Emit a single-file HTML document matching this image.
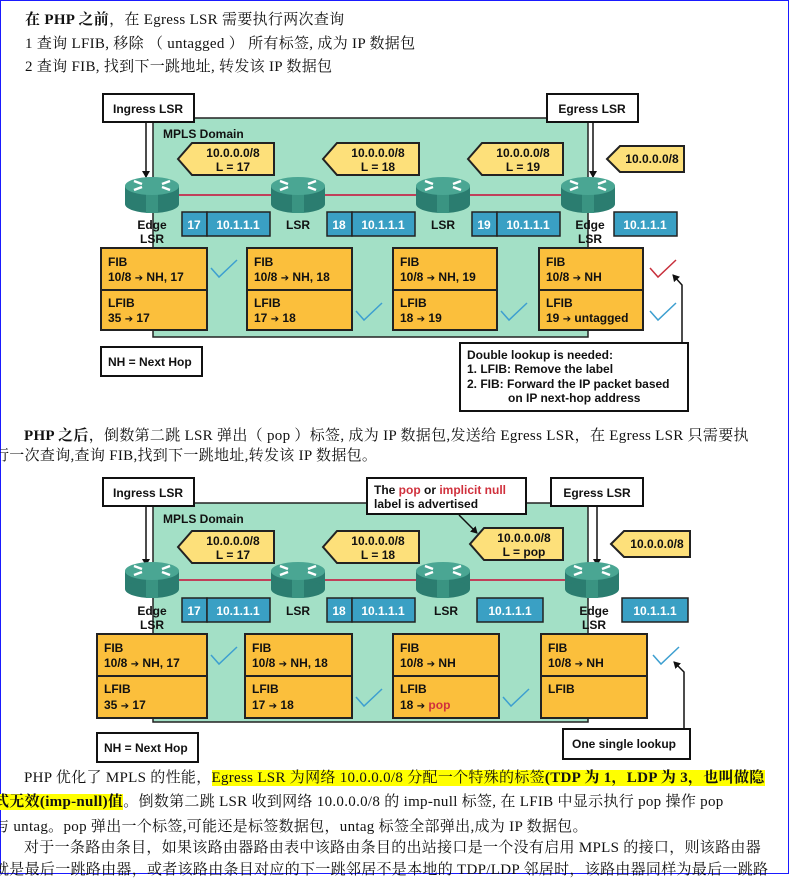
<!DOCTYPE html>
<html><head><meta charset="utf-8"><style>
html,body{margin:0;padding:0;background:#fff}
body{width:789px;height:874px;position:relative;overflow:hidden}
.frame{position:absolute;left:0;top:0;width:787px;height:872px;border:1px solid #1a1aff}
.t{position:absolute;white-space:nowrap;font-family:"Liberation Serif","Noto Serif CJK SC",serif;font-size:15px;letter-spacing:0.3px;line-height:20px;color:#111}
.hl{background:#ffff00}
b{font-weight:bold}
svg text{font-family:"Liberation Sans",Arial,sans-serif;font-weight:bold;font-size:12px;fill:#111}
.ar{font-family:"DejaVu Sans",sans-serif;font-size:10px}
</style></head><body>
<div class="frame"></div>
<div class="t" style="left:25px;top:10px"><b>在 PHP 之前</b>，在 Egress LSR 需要执行两次查询</div>
<div class="t" style="left:25px;top:34px">1 查询 LFIB, 移除 （ untagged ） 所有标签, 成为 IP 数据包</div>
<div class="t" style="left:25px;top:57px">2 查询 FIB, 找到下一跳地址, 转发该 IP 数据包</div>
<div class="t" style="left:24px;top:426px"><b>PHP 之后</b>，倒数第二跳 LSR 弹出（ pop ）标签, 成为 IP 数据包,发送给 Egress LSR，在 Egress LSR 只需要执</div>
<div class="t" style="left:-6px;top:446px">行一次查询,查询 FIB,找到下一跳地址,转发该 IP 数据包。</div>
<div class="t" style="left:24px;top:768px">PHP 优化了 MPLS 的性能，<span class="hl">Egress LSR 为网络 10.0.0.0/8 分配一个特殊的标签<b>(TDP 为 1，LDP 为 3，也叫做隐</b></span></div>
<div class="t" style="left:-6px;top:792px"><span class="hl"><b>式无效(imp-null)值</b></span>。倒数第二跳 LSR 收到网络 10.0.0.0/8 的 imp-null 标签, 在 LFIB 中显示执行 pop 操作 pop</div>
<div class="t" style="left:-6px;top:817px">与 untag。pop 弹出一个标签,可能还是标签数据包，untag 标签全部弹出,成为 IP 数据包。</div>
<div class="t" style="left:24px;top:838px">对于一条路由条目，如果该路由器路由表中该路由条目的出站接口是一个没有启用 MPLS 的接口，则该路由器</div>
<div class="t" style="left:-6px;top:860px">就是最后一跳路由器，或者该路由条目对应的下一跳邻居不是本地的 TDP/LDP 邻居时，该路由器同样为最后一跳路</div>

<svg width="789" height="874" style="position:absolute;left:0;top:0" xmlns="http://www.w3.org/2000/svg">
<defs>
<marker id="ah" markerWidth="8" markerHeight="8" refX="6" refY="4" orient="auto" markerUnits="userSpaceOnUse"><path d="M0,0 L7,4 L0,8 z" fill="#111"/></marker>
<g id="rt">
<rect x="-27" y="-9" width="54" height="18" fill="#2b7d70"/>
<ellipse cx="0" cy="9" rx="27" ry="9" fill="#2b7d70"/>
<rect x="-6" y="-2" width="12" height="20" fill="#3a9482"/>
<ellipse cx="0" cy="-9" rx="27" ry="9" fill="#4aa693"/>
<path d="M-18,-14 l8,3 M-18,-5 l8,-3 M18,-14 l-8,3 M18,-5 l-8,-3" stroke="#fff" stroke-width="2.5"/>
</g>
</defs>

<!-- DIAGRAM 1 -->
<g>
<rect x="153" y="118" width="435" height="219" fill="#a3e0c6" stroke="#222" stroke-width="1.5"/>
<rect x="103" y="94" width="91" height="28" fill="#fff" stroke="#111" stroke-width="2"/>
<text x="148" y="113" text-anchor="middle" font-size="13">Ingress LSR</text>
<rect x="547" y="94" width="91" height="28" fill="#fff" stroke="#111" stroke-width="2"/>
<text x="592" y="113" text-anchor="middle" font-size="13">Egress LSR</text>
<line x1="146" y1="122" x2="146" y2="177" stroke="#111" stroke-width="1.5" marker-end="url(#ah)"/>
<line x1="593" y1="122" x2="593" y2="177" stroke="#111" stroke-width="1.5" marker-end="url(#ah)"/>
<text x="163" y="138" font-size="14">MPLS Domain</text>
<polygon points="178,159 192,143 274,143 274,175 192,175" fill="#fde07a" stroke="#222" stroke-width="2"/>
<text x="233" y="157" text-anchor="middle">10.0.0.0/8</text><text x="233" y="171" text-anchor="middle">L = 17</text>
<polygon points="323,159 337,143 419,143 419,175 337,175" fill="#fde07a" stroke="#222" stroke-width="2"/>
<text x="378" y="157" text-anchor="middle">10.0.0.0/8</text><text x="378" y="171" text-anchor="middle">L = 18</text>
<polygon points="468,159 482,143 563,143 563,175 482,175" fill="#fde07a" stroke="#222" stroke-width="2"/>
<text x="523" y="157" text-anchor="middle">10.0.0.0/8</text><text x="523" y="171" text-anchor="middle">L = 19</text>
<polygon points="607,159 620,146 684,146 684,172 620,172" fill="#fde07a" stroke="#222" stroke-width="2"/>
<text x="652" y="163" text-anchor="middle">10.0.0.0/8</text>
<line x1="152" y1="195" x2="588" y2="195" stroke="#c0405a" stroke-width="2"/>
<use href="#rt" x="152" y="195"/><use href="#rt" x="298" y="195"/><use href="#rt" x="443" y="195"/><use href="#rt" x="588" y="195"/>
<g fill="#3aa0c4" stroke="#222" stroke-width="1.5">
<rect x="182" y="212" width="25" height="24"/><rect x="207" y="212" width="63" height="24"/>
<rect x="327" y="212" width="25" height="24"/><rect x="352" y="212" width="63" height="24"/>
<rect x="472" y="212" width="25" height="24"/><rect x="497" y="212" width="63" height="24"/>
<rect x="614" y="212" width="63" height="24"/>
</g>
<g text-anchor="middle">
<text x="194" y="229" style="fill:#fff">17</text><text x="238" y="229" style="fill:#fff">10.1.1.1</text>
<text x="339" y="229" style="fill:#fff">18</text><text x="383" y="229" style="fill:#fff">10.1.1.1</text>
<text x="484" y="229" style="fill:#fff">19</text><text x="528" y="229" style="fill:#fff">10.1.1.1</text>
<text x="645" y="229" style="fill:#fff">10.1.1.1</text>
</g>
<g text-anchor="middle">
<text x="152" y="229">Edge</text><text x="152" y="243">LSR</text>
<text x="298" y="229">LSR</text><text x="443" y="229">LSR</text>
<text x="590" y="229">Edge</text><text x="590" y="243">LSR</text>
</g>
<g fill="#fbbf3c" stroke="#222" stroke-width="2">
<rect x="101" y="248" width="106" height="42"/><rect x="101" y="290" width="106" height="40"/>
<rect x="247" y="248" width="105" height="42"/><rect x="247" y="290" width="105" height="40"/>
<rect x="393" y="248" width="104" height="42"/><rect x="393" y="290" width="104" height="40"/>
<rect x="539" y="248" width="104" height="42"/><rect x="539" y="290" width="104" height="40"/>
</g>
<text x="108" y="266">FIB</text><text x="108" y="281">10/8 <tspan class="ar">➔</tspan> NH, 17</text><text x="108" y="307">LFIB</text><text x="108" y="322">35 <tspan class="ar">➔</tspan> 17</text>
<text x="254" y="266">FIB</text><text x="254" y="281">10/8 <tspan class="ar">➔</tspan> NH, 18</text><text x="254" y="307">LFIB</text><text x="254" y="322">17 <tspan class="ar">➔</tspan> 18</text>
<text x="400" y="266">FIB</text><text x="400" y="281">10/8 <tspan class="ar">➔</tspan> NH, 19</text><text x="400" y="307">LFIB</text><text x="400" y="322">18 <tspan class="ar">➔</tspan> 19</text>
<text x="546" y="266">FIB</text><text x="546" y="281">10/8 <tspan class="ar">➔</tspan> NH</text><text x="546" y="307">LFIB</text><text x="546" y="322">19 <tspan class="ar">➔</tspan> untagged</text>
<g fill="none" stroke-width="1.5">
<polyline points="211,268 219,277 237,260" stroke="#3d9fd0"/>
<polyline points="356,311 364,320 382,303" stroke="#3d9fd0"/>
<polyline points="501,311 509,320 527,303" stroke="#3d9fd0"/>
<polyline points="650,268 658,277 676,260" stroke="#c8303c"/>
<polyline points="650,311 658,320 676,303" stroke="#3d9fd0"/>
</g>
<rect x="101" y="347" width="101" height="29" fill="#fff" stroke="#111" stroke-width="2"/>
<text x="108" y="366">NH = Next Hop</text>
<rect x="460" y="343" width="228" height="68" fill="#fff" stroke="#111" stroke-width="2"/>
<text x="467" y="359">Double lookup is needed:</text>
<text x="467" y="373">1. LFIB: Remove the label</text>
<text x="467" y="388">2. FIB: Forward the IP packet based</text>
<text x="508" y="402">on IP next-hop address</text>
<polyline points="682,343 682,285 673,275" fill="none" stroke="#111" stroke-width="1.5" marker-end="url(#ah)"/>
</g>

<!-- DIAGRAM 2 -->
<g transform="translate(0,385)">
<rect x="153" y="118" width="435" height="219" fill="#a3e0c6" stroke="#222" stroke-width="1.5"/>
<rect x="103" y="93" width="91" height="28" fill="#fff" stroke="#111" stroke-width="2"/>
<text x="148" y="112" text-anchor="middle" font-size="13">Ingress LSR</text>
<rect x="551" y="93" width="92" height="28" fill="#fff" stroke="#111" stroke-width="2"/>
<text x="597" y="112" text-anchor="middle" font-size="13">Egress LSR</text>
<line x1="146" y1="121" x2="146" y2="180" stroke="#111" stroke-width="1.5" marker-end="url(#ah)"/>
<line x1="597" y1="121" x2="597" y2="180" stroke="#111" stroke-width="1.5" marker-end="url(#ah)"/>
<text x="163" y="138" font-size="14">MPLS Domain</text>
<polygon points="178,162 192,146 274,146 274,178 192,178" fill="#fde07a" stroke="#222" stroke-width="2"/>
<text x="233" y="160" text-anchor="middle">10.0.0.0/8</text><text x="233" y="174" text-anchor="middle">L = 17</text>
<polygon points="323,162 337,146 419,146 419,178 337,178" fill="#fde07a" stroke="#222" stroke-width="2"/>
<text x="378" y="160" text-anchor="middle">10.0.0.0/8</text><text x="378" y="174" text-anchor="middle">L = 18</text>
<polygon points="470,159 484,143 563,143 563,175 484,175" fill="#fde07a" stroke="#222" stroke-width="2"/>
<text x="524" y="157" text-anchor="middle">10.0.0.0/8</text><text x="524" y="171" text-anchor="middle">L = pop</text>
<polygon points="611,159 624,146 690,146 690,172 624,172" fill="#fde07a" stroke="#222" stroke-width="2"/>
<text x="657" y="163" text-anchor="middle">10.0.0.0/8</text>
<rect x="367" y="93" width="159" height="36" fill="#fff" stroke="#111" stroke-width="2"/>
<text x="374" y="109">The <tspan style="fill:#d0303c">pop</tspan> or <tspan style="fill:#d0303c">implicit null</tspan></text>
<text x="374" y="123">label is advertised</text>
<line x1="459" y1="130" x2="477" y2="148" stroke="#111" stroke-width="1.5" marker-end="url(#ah)"/>
<line x1="152" y1="195" x2="592" y2="195" stroke="#c0405a" stroke-width="2"/>
<use href="#rt" x="152" y="195"/><use href="#rt" x="298" y="195"/><use href="#rt" x="443" y="195"/><use href="#rt" x="592" y="195"/>
<g fill="#3aa0c4" stroke="#222" stroke-width="1.5">
<rect x="182" y="213" width="25" height="24"/><rect x="207" y="213" width="63" height="24"/>
<rect x="327" y="213" width="25" height="24"/><rect x="352" y="213" width="63" height="24"/>
<rect x="477" y="213" width="66" height="24"/>
<rect x="622" y="213" width="66" height="24"/>
</g>
<text x="194" y="230" text-anchor="middle" style="fill:#fff">17</text><text x="238" y="230" text-anchor="middle" style="fill:#fff">10.1.1.1</text>
<text x="339" y="230" text-anchor="middle" style="fill:#fff">18</text><text x="383" y="230" text-anchor="middle" style="fill:#fff">10.1.1.1</text>
<text x="510" y="230" text-anchor="middle" style="fill:#fff">10.1.1.1</text>
<text x="655" y="230" text-anchor="middle" style="fill:#fff">10.1.1.1</text>
<g text-anchor="middle">
<text x="152" y="230">Edge</text><text x="152" y="244">LSR</text>
<text x="298" y="230">LSR</text><text x="446" y="230">LSR</text>
<text x="594" y="230">Edge</text><text x="594" y="244">LSR</text>
</g>
<g fill="#fbbf3c" stroke="#222" stroke-width="2">
<rect x="97" y="249" width="110" height="42"/><rect x="97" y="291" width="110" height="42"/>
<rect x="245" y="249" width="107" height="42"/><rect x="245" y="291" width="107" height="42"/>
<rect x="393" y="249" width="106" height="42"/><rect x="393" y="291" width="106" height="42"/>
<rect x="541" y="249" width="106" height="42"/><rect x="541" y="291" width="106" height="42"/>
</g>
<text x="104" y="267">FIB</text><text x="104" y="282">10/8 <tspan class="ar">➔</tspan> NH, 17</text><text x="104" y="308">LFIB</text><text x="104" y="324">35 <tspan class="ar">➔</tspan> 17</text>
<text x="252" y="267">FIB</text><text x="252" y="282">10/8 <tspan class="ar">➔</tspan> NH, 18</text><text x="252" y="308">LFIB</text><text x="252" y="324">17 <tspan class="ar">➔</tspan> 18</text>
<text x="400" y="267">FIB</text><text x="400" y="282">10/8 <tspan class="ar">➔</tspan> NH</text><text x="400" y="308">LFIB</text><text x="400" y="324">18 <tspan class="ar">➔</tspan> <tspan style="fill:#d0303c">pop</tspan></text>
<text x="548" y="267">FIB</text><text x="548" y="282">10/8 <tspan class="ar">➔</tspan> NH</text><text x="548" y="308">LFIB</text>
<g fill="none" stroke-width="1.5" stroke="#3d9fd0">
<polyline points="211,270 219,279 237,262"/>
<polyline points="356,312 364,321 382,304"/>
<polyline points="503,312 511,321 529,304"/>
<polyline points="653,270 661,279 679,262"/>
</g>
<rect x="97" y="348" width="101" height="29" fill="#fff" stroke="#111" stroke-width="2"/>
<text x="104" y="367">NH = Next Hop</text>
<rect x="563" y="344" width="127" height="30" fill="#fff" stroke="#111" stroke-width="2"/>
<text x="572" y="363">One single lookup</text>
<polyline points="684,344 684,287 674,277" fill="none" stroke="#111" stroke-width="1.5" marker-end="url(#ah)"/>
</g>
</svg>
</body></html>
